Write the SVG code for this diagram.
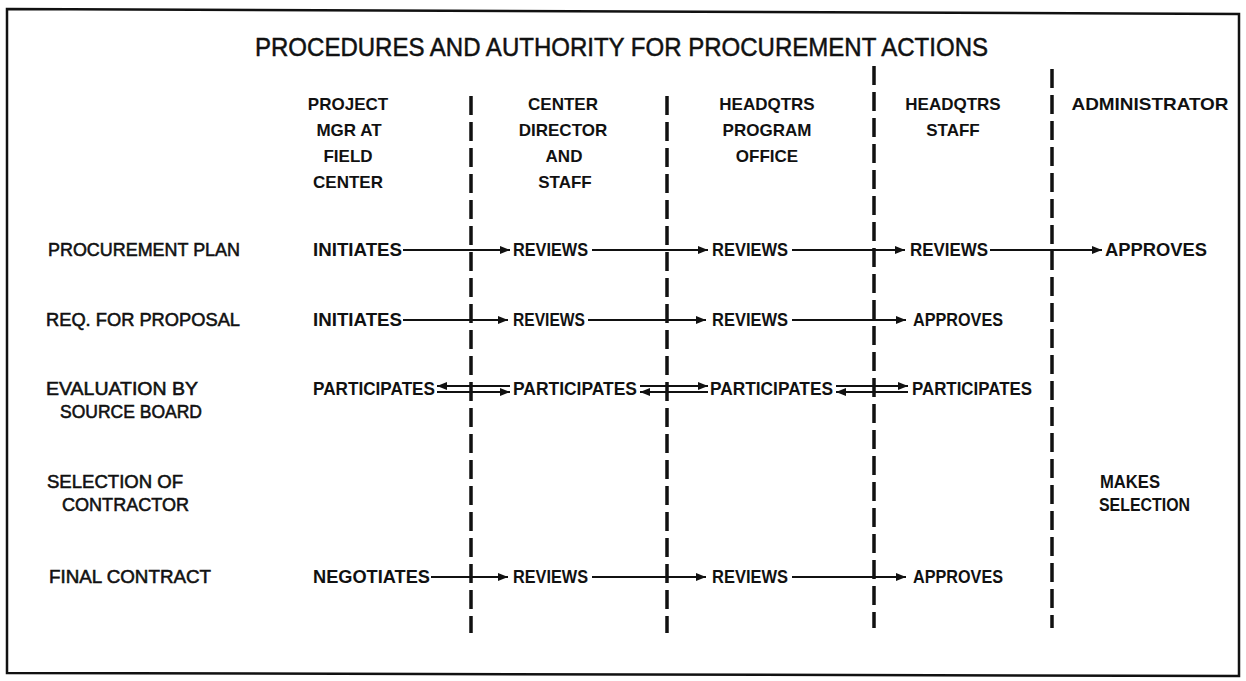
<svg xmlns="http://www.w3.org/2000/svg" width="1246" height="681" viewBox="0 0 1246 681">
<style>
.t{font-family:"Liberation Sans",Arial,sans-serif;fill:#111}
.title{font-size:26px;font-weight:normal;stroke:#111;stroke-width:0.5}
.hd{font-size:17px;font-weight:bold;text-anchor:middle}
.rl{font-size:18px;font-weight:normal;stroke:#111;stroke-width:0.55}
.c{font-size:18px;font-weight:bold}
.dash{stroke:#111;stroke-width:3.5;stroke-dasharray:19 7;fill:none}
.ar{stroke:#111;stroke-width:2.2;fill:none}
.ar2{stroke:#111;stroke-width:2;fill:none}
</style>
<defs>
<marker id="ah" viewBox="0 0 10 8" refX="10" refY="4" markerWidth="11" markerHeight="8" markerUnits="userSpaceOnUse" orient="auto">
<path d="M0,0 L10,4 L0,8 z" fill="#111"/>
</marker>
</defs>
<rect width="1246" height="681" fill="#fff"/>
<polygon points="7,9 1239,14 1239,676 7,673" fill="none" stroke="#111" stroke-width="2.5"/>
<text class="t title" x="255" y="56" textLength="733" lengthAdjust="spacingAndGlyphs">PROCEDURES AND AUTHORITY FOR PROCUREMENT ACTIONS</text>

<g id="col-project-mgr">
<text class="t hd" x="348" y="110">PROJECT</text>
<text class="t hd" x="349" y="136">MGR AT</text>
<text class="t hd" x="348" y="162">FIELD</text>
<text class="t hd" x="348" y="188">CENTER</text>
</g>
<g id="col-center-director">
<text class="t hd" x="563" y="110">CENTER</text>
<text class="t hd" x="563" y="136">DIRECTOR</text>
<text class="t hd" x="564" y="162">AND</text>
<text class="t hd" x="565" y="188">STAFF</text>
</g>
<g id="col-hq-program">
<text class="t hd" x="767" y="110">HEADQTRS</text>
<text class="t hd" x="767" y="136">PROGRAM</text>
<text class="t hd" x="767" y="162">OFFICE</text>
</g>
<g id="col-hq-staff">
<text class="t hd" x="953" y="110">HEADQTRS</text>
<text class="t hd" x="953" y="136">STAFF</text>
</g>
<g id="col-administrator">
<text class="t hd" x="1150" y="110" textLength="157" lengthAdjust="spacingAndGlyphs">ADMINISTRATOR</text>
</g>

<g id="dividers">
<line class="dash" x1="471" y1="96" x2="471" y2="633"/>
<line class="dash" x1="667" y1="96" x2="667" y2="633"/>
<line class="dash" x1="874" y1="66" x2="874" y2="628"/>
<line class="dash" x1="1052" y1="69" x2="1052" y2="628"/>
</g>

<g id="row-procurement-plan">
<text class="t rl" x="48" y="256" textLength="192" lengthAdjust="spacingAndGlyphs">PROCUREMENT PLAN</text>
<text class="t c" x="313" y="256" textLength="89" lengthAdjust="spacingAndGlyphs">INITIATES</text>
<text class="t c" x="513" y="256" textLength="75" lengthAdjust="spacingAndGlyphs">REVIEWS</text>
<text class="t c" x="712" y="256" textLength="76" lengthAdjust="spacingAndGlyphs">REVIEWS</text>
<text class="t c" x="910" y="256" textLength="78" lengthAdjust="spacingAndGlyphs">REVIEWS</text>
<text class="t c" x="1105" y="256" textLength="102" lengthAdjust="spacingAndGlyphs">APPROVES</text>
</g>
<g id="row-req-proposal">
<text class="t rl" x="46" y="326" textLength="194" lengthAdjust="spacingAndGlyphs">REQ.  FOR PROPOSAL</text>
<text class="t c" x="313" y="326" textLength="89" lengthAdjust="spacingAndGlyphs">INITIATES</text>
<text class="t c" x="513" y="326" textLength="72" lengthAdjust="spacingAndGlyphs">REVIEWS</text>
<text class="t c" x="712" y="326" textLength="76" lengthAdjust="spacingAndGlyphs">REVIEWS</text>
<text class="t c" x="913" y="326" textLength="90" lengthAdjust="spacingAndGlyphs">APPROVES</text>
</g>
<g id="row-evaluation">
<text class="t rl" x="46" y="395" textLength="152" lengthAdjust="spacingAndGlyphs">EVALUATION BY</text>
<text class="t rl" x="60" y="418" textLength="142" lengthAdjust="spacingAndGlyphs">SOURCE BOARD</text>
<text class="t c" x="313" y="395" textLength="122" lengthAdjust="spacingAndGlyphs">PARTICIPATES</text>
<text class="t c" x="513" y="395" textLength="124" lengthAdjust="spacingAndGlyphs">PARTICIPATES</text>
<text class="t c" x="710" y="395" textLength="123" lengthAdjust="spacingAndGlyphs">PARTICIPATES</text>
<text class="t c" x="912" y="395" textLength="120" lengthAdjust="spacingAndGlyphs">PARTICIPATES</text>
</g>
<g id="row-selection">
<text class="t rl" x="47" y="488" textLength="136" lengthAdjust="spacingAndGlyphs">SELECTION OF</text>
<text class="t rl" x="62" y="511" textLength="127" lengthAdjust="spacingAndGlyphs">CONTRACTOR</text>
<text class="t c" x="1100" y="488" textLength="60" lengthAdjust="spacingAndGlyphs">MAKES</text>
<text class="t c" x="1099" y="511" textLength="91" lengthAdjust="spacingAndGlyphs">SELECTION</text>
</g>
<g id="row-final-contract">
<text class="t rl" x="49" y="583" textLength="162" lengthAdjust="spacingAndGlyphs">FINAL CONTRACT</text>
<text class="t c" x="313" y="583" textLength="117" lengthAdjust="spacingAndGlyphs">NEGOTIATES</text>
<text class="t c" x="513" y="583" textLength="75" lengthAdjust="spacingAndGlyphs">REVIEWS</text>
<text class="t c" x="712" y="583" textLength="76" lengthAdjust="spacingAndGlyphs">REVIEWS</text>
<text class="t c" x="913" y="583" textLength="90" lengthAdjust="spacingAndGlyphs">APPROVES</text>
</g>

<g id="connectors">
<line class="ar" x1="403" y1="250" x2="510" y2="250" marker-end="url(#ah)"/>
<line class="ar" x1="592" y1="250" x2="708" y2="250" marker-end="url(#ah)"/>
<line class="ar" x1="792" y1="250" x2="905" y2="250" marker-end="url(#ah)"/>
<line class="ar" x1="990" y1="250" x2="1102" y2="250" marker-end="url(#ah)"/>

<line class="ar" x1="403" y1="320" x2="508" y2="320" marker-end="url(#ah)"/>
<line class="ar" x1="588" y1="320" x2="706" y2="320" marker-end="url(#ah)"/>
<line class="ar" x1="792" y1="320" x2="906" y2="320" marker-end="url(#ah)"/>

<line class="ar2" x1="510" y1="386" x2="437" y2="386" marker-end="url(#ah)"/>
<line class="ar2" x1="437" y1="392" x2="510" y2="392" marker-end="url(#ah)"/>
<line class="ar2" x1="640" y1="386" x2="708" y2="386" marker-end="url(#ah)"/>
<line class="ar2" x1="708" y1="392" x2="640" y2="392" marker-end="url(#ah)"/>
<line class="ar2" x1="836" y1="386" x2="908" y2="386" marker-end="url(#ah)"/>
<line class="ar2" x1="908" y1="392" x2="836" y2="392" marker-end="url(#ah)"/>

<line class="ar" x1="431" y1="577" x2="508" y2="577" marker-end="url(#ah)"/>
<line class="ar" x1="592" y1="577" x2="706" y2="577" marker-end="url(#ah)"/>
<line class="ar" x1="792" y1="577" x2="906" y2="577" marker-end="url(#ah)"/>
</g>
</svg>
